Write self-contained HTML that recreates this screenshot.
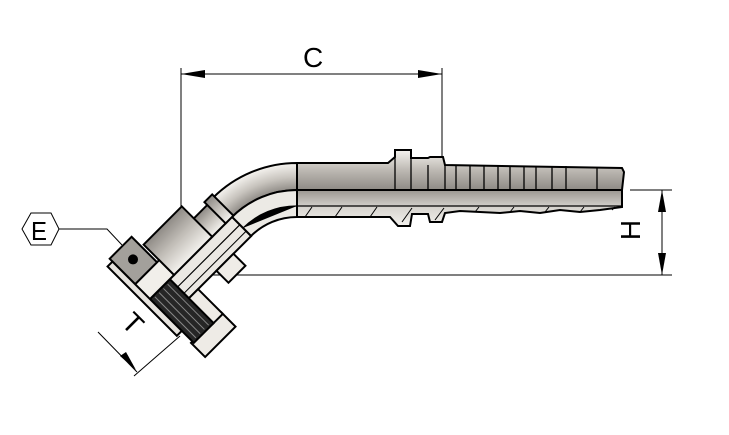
<!DOCTYPE html>
<html><head><style>html,body{margin:0;padding:0;background:#fff}svg{display:block}</style></head>
<body>
<svg width="729" height="435" viewBox="0 0 729 435" xmlns="http://www.w3.org/2000/svg">
<defs>
<linearGradient id="gv" x1="0" y1="0" x2="0" y2="1">
<stop offset="0" stop-color="#f4f2ee"/><stop offset="0.5" stop-color="#bdb9b3"/><stop offset="1" stop-color="#8e8a85"/></linearGradient>
<linearGradient id="ga" x1="0" y1="1" x2="0" y2="0">
<stop offset="0" stop-color="#8e8a85"/><stop offset="0.5" stop-color="#c4c0ba"/><stop offset="1" stop-color="#f4f2ee"/></linearGradient>
<radialGradient id="gb" cx="297" cy="282" r="119" gradientUnits="userSpaceOnUse">
<stop offset="0.77" stop-color="#8e8a85"/><stop offset="0.88" stop-color="#c8c4be"/><stop offset="1" stop-color="#f6f4f0"/></radialGradient>
<linearGradient id="gl" x1="0" y1="0" x2="0" y2="1">
<stop offset="0" stop-color="#9a9690"/><stop offset="0.5" stop-color="#d8d5d0"/><stop offset="1" stop-color="#f3f1ed"/></linearGradient>
</defs>
<g stroke="#000" fill="none">
<line x1="181" y1="68" x2="181" y2="275" stroke-width="1"/>
<line x1="442" y1="68" x2="442" y2="160" stroke-width="1"/>
<line x1="181" y1="74" x2="442" y2="74" stroke-width="1"/>
<line x1="630" y1="190" x2="672" y2="190" stroke-width="1"/>
<line x1="181" y1="275" x2="672" y2="275" stroke-width="1"/>
<line x1="662" y1="190" x2="662" y2="275" stroke-width="1"/>
<polyline points="59,229 107,229 122,245" stroke-width="1"/>
<polygon points="22,229 31,213 51,213 59,229 51,245 31,245" stroke-width="1"/>
<line x1="98" y1="332" x2="137" y2="372" stroke-width="1"/>
<line x1="134" y1="376" x2="180" y2="336" stroke-width="1"/>
</g>
<g fill="#000">
<polygon points="181,74 205,70 205,78"/>
<polygon points="442,74 418,70 418,78"/>
<polygon points="662,190 658,212 666,212"/>
<polygon points="662,275 658,253 666,253"/>
<polygon points="136,370 120,356 126,352"/>
</g>
<g font-family="Liberation Sans, sans-serif" fill="#000">
<text x="303" y="67" font-size="28">C</text>
<text x="31" y="240" font-size="26" textLength="16" lengthAdjust="spacingAndGlyphs">E</text>
<text transform="translate(640,230) rotate(-90)" font-size="28" text-anchor="middle">H</text>
<text transform="translate(126,330) rotate(45)" font-size="28" text-anchor="middle">T</text>
</g>

<g stroke="#000" stroke-width="2">
<path d="M297,163 L388,163 L395,157 L395,150 L411,150 L411,158 L428,158 L430,157 L443,157 L445,165 L622,168 L624,172 L622,190 L297,190 Z" fill="url(#gv)"/>
<path d="M297,190 L622,190 L622,207 L600,210 L580,212 L560,210 L540,213 L520,211 L500,213 L480,212 L460,211 L445,213 L442,222 L430,222 L428,214 L412,214 L410,226 L398,226 L390,217 L297,217 Z" fill="url(#gl)"/>
<line x1="297" y1="206" x2="622" y2="206" stroke-width="1.2"/>
<g stroke-width="1.3">
<line x1="395" y1="157" x2="395" y2="190"/><line x1="411" y1="158" x2="411" y2="190"/>
<line x1="428" y1="165" x2="428" y2="190"/><line x1="445" y1="165" x2="445" y2="190"/>
<line x1="456" y1="166" x2="456" y2="190"/><line x1="470" y1="166" x2="470" y2="190"/>
<line x1="484" y1="166" x2="484" y2="190"/><line x1="498" y1="166" x2="498" y2="190"/>
<line x1="510" y1="166" x2="510" y2="190"/><line x1="524" y1="166" x2="524" y2="190"/>
<line x1="536" y1="166" x2="536" y2="190"/><line x1="552" y1="166" x2="552" y2="190"/>
<line x1="566" y1="166" x2="566" y2="190"/><line x1="597" y1="167" x2="597" y2="190"/>
</g>
<g stroke-width="1">
<line x1="305" y1="217" x2="312" y2="207"/><line x1="335" y1="217" x2="342" y2="207"/>
<line x1="370" y1="217" x2="377" y2="207"/><line x1="402" y1="222" x2="412" y2="208"/>
<line x1="435" y1="220" x2="444" y2="208"/><line x1="475" y1="212" x2="479" y2="207"/>
<line x1="510" y1="212" x2="514" y2="207"/><line x1="545" y1="212" x2="549" y2="207"/>
<line x1="580" y1="212" x2="584" y2="207"/><line x1="612" y1="210" x2="615" y2="207"/>
</g>
<path d="M297,163 A119,119 0 0 0 212.9,197.9 L232,217 A92,92 0 0 1 297,190 Z" fill="url(#gb)"/>
<path d="M297,190 A92,92 0 0 0 232,217 L251,236 A65,65 0 0 1 297,217 Z" fill="#eceae5"/>
<path d="M297,206 A76,76 0 0 0 243,228" stroke-width="1.2"/>
</g>

<g transform="translate(232,217) rotate(135)" stroke="#000" stroke-width="2">
<rect x="0" y="-27" width="88" height="27" fill="#ebe8e3"/>
<line x1="0" y1="-11" x2="88" y2="-11" stroke-width="1.2"/>
<line x1="0" y1="-20" x2="88" y2="-20" stroke-width="1"/>
<rect x="25" y="-44" width="24" height="17" fill="#efece7"/>
<rect x="8" y="0" width="22" height="26" fill="url(#ga)"/>
<rect x="-2" y="0" width="11" height="30" fill="url(#ga)"/>
<rect x="28" y="0" width="54" height="43" fill="url(#ga)"/>
<rect x="75" y="-80" width="43" height="20" fill="#eeebe6"/>
<rect x="75" y="-62" width="14" height="35" fill="#eeebe6"/>
<rect x="88" y="-62" width="28" height="62" fill="#262626"/>
<g stroke="#888" stroke-width="1">
<line x1="93" y1="-60" x2="93" y2="-2"/><line x1="99" y1="-60" x2="99" y2="-2"/>
<line x1="105" y1="-60" x2="105" y2="-2"/><line x1="111" y1="-60" x2="111" y2="-2"/>
</g>
<rect x="82" y="0" width="36" height="21" fill="#f1efea"/>
<rect x="85" y="21" width="31" height="36" fill="#a3a09b"/>
<circle cx="100" cy="40" r="4" fill="#000"/>
<rect x="116" y="-45" width="7" height="98" fill="#e6e3de"/>
</g>
</svg>
</body></html>
